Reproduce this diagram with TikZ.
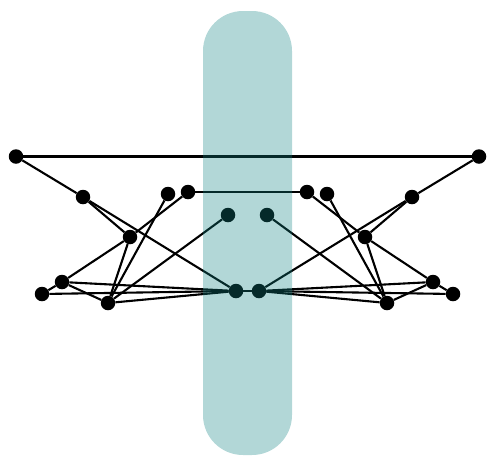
\documentclass[tikz,border=0pt]{standalone}
\usepackage{tikz}
\definecolor{stad}{RGB}{16,132,132}
\begin{document}
\begin{tikzpicture}[x=1pt,y=-1pt,
  vtx/.style={circle,fill=black,inner sep=0pt,minimum size=14.5pt},
  edge/.style={line width=2.1pt,black},
  band/.style={fill=stad,fill opacity=0.32,draw=none,rounded corners=40pt}]
\useasboundingbox (0,0) rectangle (487,456);
% left vertices
\node[vtx] (A) at (16,156.5) {};
\node[vtx] (B) at (83,197) {};
\node[vtx] (C) at (168,194) {};
\node[vtx] (D) at (188,192) {};
\node[vtx] (E) at (228,215) {};
\node[vtx] (F) at (130,237) {};
\node[vtx] (G) at (62,282) {};
\node[vtx] (H) at (42,294) {};
\node[vtx] (I) at (108,303) {};
\node[vtx] (J) at (236,291) {};
% right vertices
\node[vtx] (A2) at (479,156.5) {};
\node[vtx] (B2) at (412,197) {};
\node[vtx] (C2) at (327,194) {};
\node[vtx] (D2) at (307,192) {};
\node[vtx] (E2) at (267,215) {};
\node[vtx] (F2) at (365,237) {};
\node[vtx] (G2) at (433,282) {};
\node[vtx] (H2) at (453,294) {};
\node[vtx] (I2) at (387,303) {};
\node[vtx] (J2) at (259,291) {};
% edges
\draw[edge] (A) -- (A2);
\draw[edge] (D) -- (D2);
\draw[edge] (J) -- (J2);
\draw[edge] (A) -- (B);  \draw[edge] (B) -- (J);  \draw[edge] (B) -- (F);
\draw[edge] (D) -- (F);  \draw[edge] (C) -- (I);  \draw[edge] (F) -- (I);
\draw[edge] (F) -- (G);  \draw[edge] (G) -- (H);  \draw[edge] (G) -- (I);
\draw[edge] (G) -- (J);  \draw[edge] (H) -- (J);  \draw[edge] (I) -- (J);
\draw[edge] (I) -- (E);
\draw[edge] (A2) -- (B2);  \draw[edge] (B2) -- (J2);  \draw[edge] (B2) -- (F2);
\draw[edge] (D2) -- (F2);  \draw[edge] (C2) -- (I2);  \draw[edge] (F2) -- (I2);
\draw[edge] (F2) -- (G2);  \draw[edge] (G2) -- (H2);  \draw[edge] (G2) -- (I2);
\draw[edge] (G2) -- (J2);  \draw[edge] (H2) -- (J2);  \draw[edge] (I2) -- (J2);
\draw[edge] (I2) -- (E2);
% band on top
\path[band] (203,11) rectangle (292,455);
\end{tikzpicture}
\end{document}
